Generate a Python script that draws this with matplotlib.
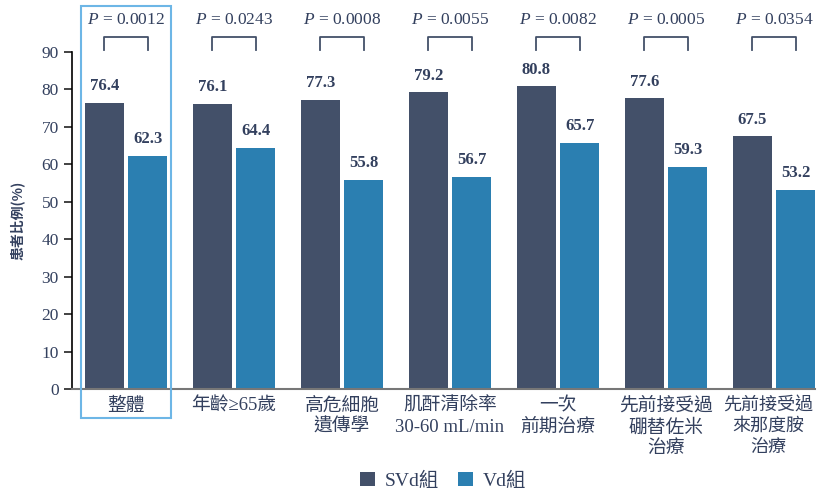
import matplotlib.pyplot as plt
import matplotlib.transforms as mtransforms
import numpy as np
from matplotlib.patches import Rectangle

categories = ['整體', '年齡≥65歲', '高危細胞\n遺傳學', '肌酐清除率\n30-60 mL/min',
              '一次\n前期治療', '先前接受過\n硼替佐米\n治療', '先前接受過\n來那度胺\n治療']
svd = [76.4, 76.1, 77.3, 79.2, 80.8, 77.6, 67.5]
vd = [62.3, 64.4, 55.8, 56.7, 65.7, 59.3, 53.2]
pvals = ['0.0012', '0.0243', '0.0008', '0.0055', '0.0082', '0.0005', '0.0354']

dark = '#435069'
blue = '#2b7fb1'
txt = '#33405e'
fam = ['Liberation Serif', 'Noto Sans CJK TC']

plt.rcParams['mathtext.fontset'] = 'custom'
plt.rcParams['mathtext.it'] = 'Liberation Serif:italic'
plt.rcParams['mathtext.rm'] = 'Liberation Serif'

fig = plt.figure(figsize=(8.19, 4.92), dpi=100)
ax = fig.add_axes([72 / 819, 1 - 389 / 492, (815 - 72) / 819, (389 - 52) / 492])

x = np.arange(len(categories))
w = 0.36
ax.bar(x - 0.2, svd, w, color=dark, label='SVd組')
ax.bar(x + 0.2, vd, w, color=blue, label='Vd組')

for i in range(len(x)):
    ax.text(x[i] - 0.2, svd[i] + 2.3, f'{svd[i]:.1f}', ha='center', va='bottom',
            fontsize=12, fontweight='bold', color=txt, family=fam)
    ax.text(x[i] + 0.2, vd[i] + 2.3, f'{vd[i]:.1f}', ha='center', va='bottom',
            fontsize=12, fontweight='bold', color=txt, family=fam)
    # bracket
    ax.plot([x[i] - 0.2, x[i] - 0.2, x[i] + 0.2, x[i] + 0.2], [90.6, 94.1, 94.1, 90.6],
            color=dark, lw=1.3, clip_on=False)
    ax.text(x[i], 98.6, r'$P$' + ' = ' + pvals[i], ha='center', va='center',
            fontsize=12.5, color=txt, family=fam)

ax.set_xlim(-0.5, 6.38)
ax.set_ylim(0, 90)
ax.set_yticks(range(0, 100, 10))
ax.set_xticks(x)
ax.set_xticklabels(categories, family=fam, fontsize=13.5, color=txt, linespacing=1.3)
ax.tick_params(axis='x', length=0, pad=6)
ax.tick_params(axis='y', length=6, width=1.2, colors='#222222', labelcolor=txt, labelsize=12.5)
for lb in ax.get_yticklabels():
    lb.set_family(fam)
last = ax.get_xticklabels()[-1]
last.set_fontsize(13)
last.set_transform(last.get_transform() + mtransforms.ScaledTranslation(-6 / 100, 0, fig.dpi_scale_trans))
ax.spines['top'].set_visible(False)
ax.spines['right'].set_visible(False)
ax.spines['left'].set_linewidth(1.2)
ax.spines['bottom'].set_color('#777777')
ax.spines['bottom'].set_linewidth(1.5)
ax.set_ylabel('患者比例(%)', family=['Noto Sans CJK TC'], fontsize=10, fontweight='bold',
              color=txt, labelpad=12)

# highlight box around first group
box = Rectangle((81 / 819, 1 - 418 / 492), 90 / 819, 412 / 492, transform=fig.transFigure,
                fill=False, edgecolor='#6db6e6', lw=1.5)
fig.patches.append(box)

leg = fig.legend(loc='center', bbox_to_anchor=(443 / 819, 1 - 481 / 492), ncol=2, frameon=False,
                 prop={'family': fam, 'size': 14}, handlelength=0.75, handleheight=0.75,
                 columnspacing=1.0, handletextpad=0.5)
for t in leg.get_texts():
    t.set_color(txt)

fig.savefig('out.png', dpi=100)
